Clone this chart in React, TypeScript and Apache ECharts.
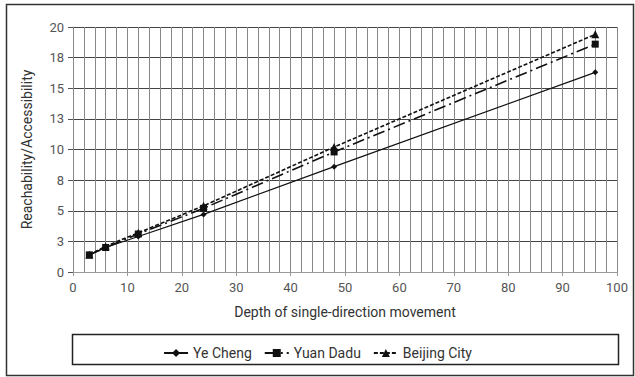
import React, { useEffect, useRef } from "react";
import * as echarts from "echarts";

const depths = [3, 6, 12, 24, 48, 96];
const yeCheng = [1.4, 2.0, 2.9, 4.7, 8.6, 16.3];
const yuanDadu = [1.4, 2.0, 3.1, 5.2, 9.8, 18.6];
const beijingCity = [1.4, 2.1, 3.2, 5.4, 10.2, 19.4];

const FONT = "Roboto, 'Noto Sans', sans-serif";

export default function App() {
  const ref = useRef<HTMLDivElement>(null);
  useEffect(() => {
    const chart = echarts.init(ref.current!, null, { renderer: "svg" });
    const pair = (ys: number[]) => depths.map((x, i) => [x, ys[i]]);
    chart.setOption({
      animation: false,
      backgroundColor: "#fff",
      textStyle: { fontFamily: FONT },
      grid: { left: 73, right: 18, top: 27, bottom: 105 },
      graphic: [
        {
          type: "rect",
          shape: { x: 6.5, y: 4.5, width: 627, height: 371 },
          style: { fill: "none", stroke: "#333", lineWidth: 1.5 },
          silent: true,
        },
        {
          type: "rect",
          shape: { x: 72.5, y: 334.5, width: 546, height: 30 },
          style: { fill: "none", stroke: "#222", lineWidth: 1.5 },
          silent: true,
        },
      ],
      legend: {
        top: 341,
        left: "center",
        itemWidth: 24,
        itemHeight: 10,
        itemGap: 12,
        textStyle: { fontFamily: FONT, fontSize: 14, color: "#333" },
        data: ["Ye Cheng", "Yuan Dadu", "Beijing City"],
      },
      xAxis: {
        type: "value",
        min: 0,
        max: 100,
        interval: 10,
        name: "Depth of single-direction movement",
        nameLocation: "middle",
        nameGap: 33,
        nameTextStyle: { fontFamily: FONT, fontSize: 14, color: "#333" },
        axisLine: { show: true, lineStyle: { color: "#999", width: 1 } },
        axisTick: { show: true, length: 4, lineStyle: { color: "#999" } },
        axisLabel: { fontFamily: FONT, fontSize: 13, color: "#555", margin: 9 },
        splitLine: { show: true, lineStyle: { color: "#888", width: 1 } },
        minorTick: { show: false, splitNumber: 5 },
        minorSplitLine: { show: true, lineStyle: { color: "#888", width: 1 } },
      },
      yAxis: {
        type: "value",
        min: 0,
        max: 20,
        interval: 2.5,
        name: "Reachability/Accessibility",
        nameLocation: "middle",
        nameGap: 39,
        nameTextStyle: { fontFamily: FONT, fontSize: 14, color: "#333" },
        axisLine: { show: true, lineStyle: { color: "#888" } },
        axisTick: { show: true, length: 5, lineStyle: { color: "#555" } },
        axisLabel: {
          fontFamily: FONT,
          fontSize: 13,
          color: "#555",
          margin: 9,
          formatter: (v: number) => String(Math.round(v)),
        },
        splitLine: { show: true, lineStyle: { color: "#444", width: 1 } },
      },
      series: [
        {
          name: "Ye Cheng",
          type: "line",
          data: pair(yeCheng),
          symbol: "diamond",
          symbolSize: 6,
          itemStyle: { color: "#111" },
          lineStyle: { color: "#111", width: 1.2, type: "solid" },
          z: 3,
        },
        {
          name: "Yuan Dadu",
          type: "line",
          data: pair(yuanDadu),
          symbol: "rect",
          symbolSize: 7,
          itemStyle: { color: "#111" },
          lineStyle: { color: "#111", width: 1.6, type: [12, 4, 2, 4] },
          z: 4,
        },
        {
          name: "Beijing City",
          type: "line",
          data: pair(beijingCity),
          symbol: "triangle",
          symbolSize: 8,
          itemStyle: { color: "#111" },
          lineStyle: { color: "#111", width: 1.6, type: [4, 2] },
          z: 5,
        },
      ],
    });
    return () => chart.dispose();
  }, []);
  return <div ref={ref} style={{ width: 635, height: 377, position: "absolute", left: 0, top: 0 }} />;
}
